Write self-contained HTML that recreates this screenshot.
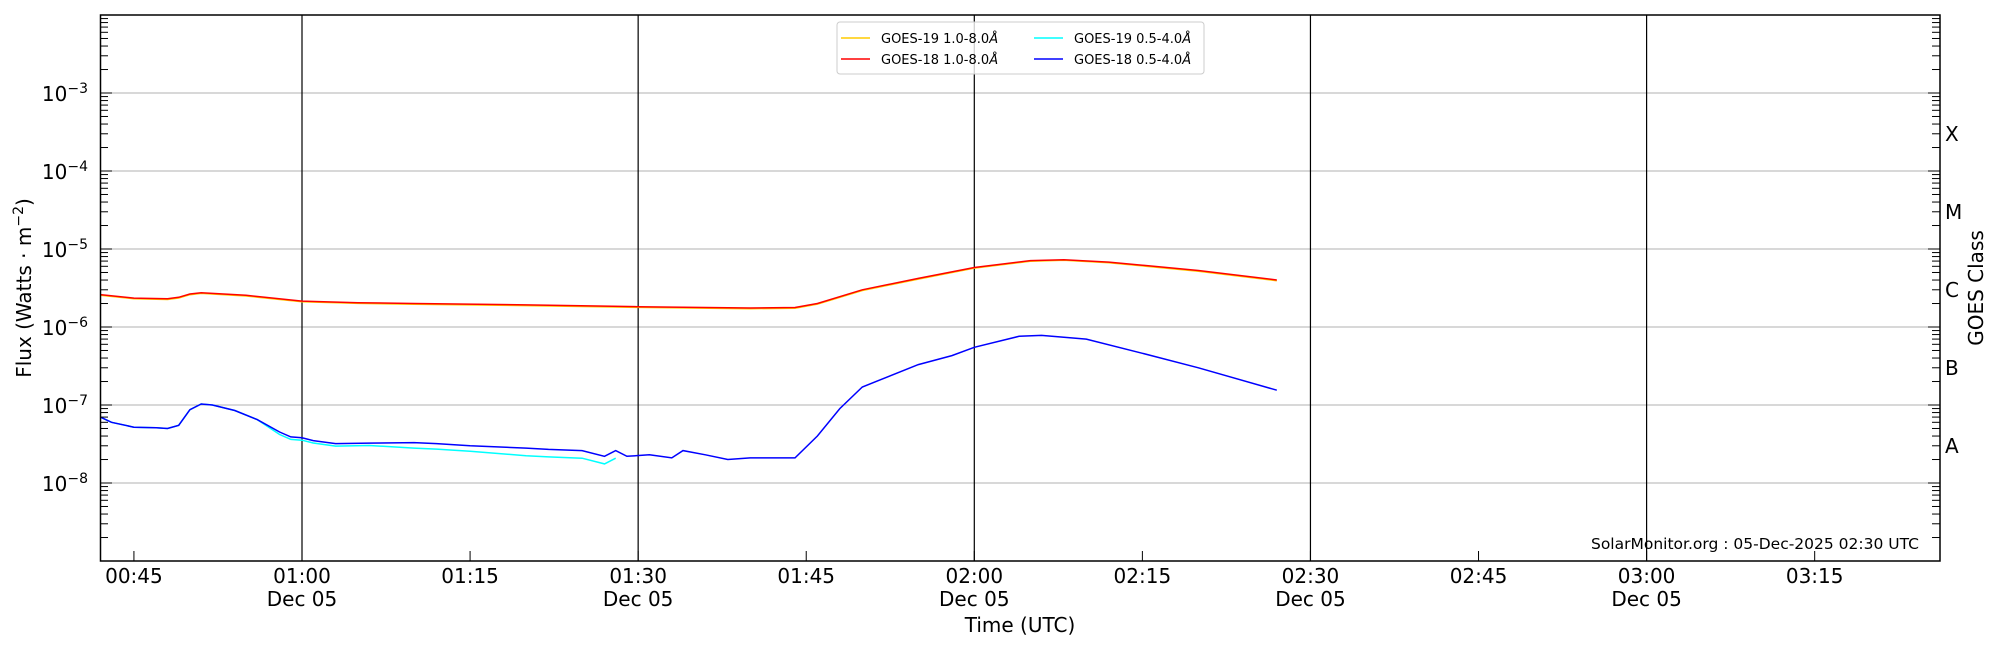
<!DOCTYPE html>
<html><head><meta charset="utf-8"><style>
body{margin:0;background:#fff}
svg{display:block;font-family:"DejaVu Sans","Liberation Sans",sans-serif}
</style></head><body>
<svg id="s" width="2000" height="650" xmlns="http://www.w3.org/2000/svg">
<rect width="2000" height="650" fill="#fff"/>
<g id="grid"></g>
<g id="data"></g>
<rect x="100.5" y="15" width="1839.5" height="546" fill="none" stroke="#000" stroke-width="1.5"/>
<g id="ticks"></g>
<g font-size="20" fill="#000" id="lab"></g>
<text x="1755" y="549" font-size="15.5" text-anchor="middle">SolarMonitor.org : 05-Dec-2025 02:30 UTC</text>
<text x="1020" y="632" font-size="20" text-anchor="middle">Time (UTC)</text>
<text transform="translate(31,288) rotate(-90)" font-size="20" text-anchor="middle">Flux (Watts · m<tspan baseline-shift="super" font-size="14">−2</tspan>)</text>
<text transform="translate(1983,288) rotate(-90)" font-size="20" text-anchor="middle">GOES Class</text>
<g font-size="13">
<rect x="837" y="22" width="367" height="52" fill="#fff" fill-opacity="0.8" stroke="#ccc" rx="3"/>
<line x1="841" y1="38" x2="870" y2="38" stroke="#ffcc00" stroke-width="1.5"/>
<text x="881" y="43">GOES-19 1.0-8.0<tspan font-style="italic">Å</tspan></text>
<line x1="841" y1="59" x2="870" y2="59" stroke="#ff0000" stroke-width="1.5"/>
<text x="881" y="64">GOES-18 1.0-8.0<tspan font-style="italic">Å</tspan></text>
<line x1="1034" y1="38" x2="1063" y2="38" stroke="#00ffff" stroke-width="1.5"/>
<text x="1074" y="43">GOES-19 0.5-4.0<tspan font-style="italic">Å</tspan></text>
<line x1="1034" y1="59" x2="1063" y2="59" stroke="#0000ff" stroke-width="1.5"/>
<text x="1074" y="64">GOES-18 0.5-4.0<tspan font-style="italic">Å</tspan></text>
</g>
</svg>
<script>
const NS="http://www.w3.org/2000/svg";
function el(p,t,a,txt){const e=document.createElementNS(NS,t);for(const k in a)e.setAttribute(k,a[k]);if(txt)e.textContent=txt;document.getElementById(p).appendChild(e);return e;}
const X=m=>302+(m-60)*11.205;
const Y=v=>561-(Math.log10(v)+9)*78.0;
for(let e=-8;e<=-3;e++){const y=Y(Math.pow(10,e));el('grid','line',{x1:100,x2:1940,y1:y,y2:y,stroke:'#b0b0b0','stroke-width':1});
 el('lab','text',{x:88,y:y+8,'text-anchor':'end'}).innerHTML='10<tspan baseline-shift="super" font-size="14">−'+(-e)+'</tspan>';}
for(const m of [60,90,120,150,180]){const x=X(m);el('grid','line',{x1:x,x2:x,y1:15,y2:561,stroke:'#000','stroke-width':1.2});}
for(let e=-9;e<-2;e++)for(let k=1;k<=9;k++){const v=k*Math.pow(10,e);const y=Y(v);if(y<16||y>560)continue;const L=k==1?12:8;
 el('ticks','line',{x1:100,x2:100+L,y1:y,y2:y,stroke:'#000','stroke-width':1});el('ticks','line',{x1:1940-L,x2:1940,y1:y,y2:y,stroke:'#000','stroke-width':1});}
const names={45:'00:45',60:'01:00',75:'01:15',90:'01:30',105:'01:45',120:'02:00',135:'02:15',150:'02:30',165:'02:45',180:'03:00',195:'03:15'};
for(const m in names){const x=X(+m);el('ticks','line',{x1:x,x2:x,y1:561,y2:551,stroke:'#000','stroke-width':1});
 el('lab','text',{x:x,y:583,'text-anchor':'middle'},names[m]);if(m%30==0)el('lab','text',{x:x,y:606,'text-anchor':'middle'},'Dec 05');}
[['X',Y(3e-4)],['M',Y(3e-5)],['C',Y(3e-6)],['B',Y(3e-7)],['A',Y(3e-8)]].forEach(([t,y])=>el('lab','text',{x:1945,y:y+7},t));
function line(pts,col,w){el('data','polyline',{points:pts.map(p=>X(p[0]).toFixed(1)+','+Y(p[1]).toFixed(1)).join(' '),fill:'none',stroke:col,'stroke-width':w});}
const red=[[42,2.6e-6],[45,2.35e-6],[48,2.3e-6],[49,2.4e-6],[50,2.65e-6],[51,2.75e-6],[55,2.55e-6],[60,2.15e-6],[65,2.05e-6],[70,2.0e-6],[80,1.92e-6],[90,1.82e-6],[100,1.75e-6],[104,1.78e-6],[106,2.0e-6],[110,3.0e-6],[115,4.2e-6],[120,5.8e-6],[125,7.1e-6],[128,7.3e-6],[132,6.8e-6],[135,6.2e-6],[140,5.3e-6],[147,4.0e-6]];
const blue=[[42,7e-8],[43,6e-8],[45,5.2e-8],[47,5.1e-8],[48,5e-8],[49,5.5e-8],[50,8.7e-8],[51,1.03e-7],[52,1.0e-7],[54,8.5e-8],[56,6.5e-8],[58,4.5e-8],[59,3.9e-8],[60,3.8e-8],[61,3.5e-8],[63,3.2e-8],[66,3.25e-8],[70,3.3e-8],[72,3.2e-8],[75,3.0e-8],[80,2.8e-8],[82,2.7e-8],[85,2.6e-8],[87,2.2e-8],[88,2.6e-8],[89,2.2e-8],[91,2.3e-8],[93,2.1e-8],[94,2.6e-8],[96,2.3e-8],[98,2.0e-8],[100,2.1e-8],[104,2.1e-8],[106,4e-8],[108,9e-8],[110,1.7e-7],[115,3.3e-7],[118,4.3e-7],[120,5.5e-7],[124,7.6e-7],[126,7.8e-7],[130,7.0e-7],[135,4.6e-7],[140,3.0e-7],[147,1.55e-7]];
const cyan=blue.map(p=>{let m=p[0],v=p[1];if(m>=58&&m<=88){const f=m<70?0.93:(m<80?0.85:0.8);v*=f;}return [m,v];}).filter(p=>p[0]<=88);
line(red.map(p=>[p[0],p[1]*0.98]),'#ffcc00',1.5);
line(red,'#ff0000',1.5);
line(cyan,'#00ffff',1.5);
line(blue,'#0000ff',1.5);
</script>
</body></html>
